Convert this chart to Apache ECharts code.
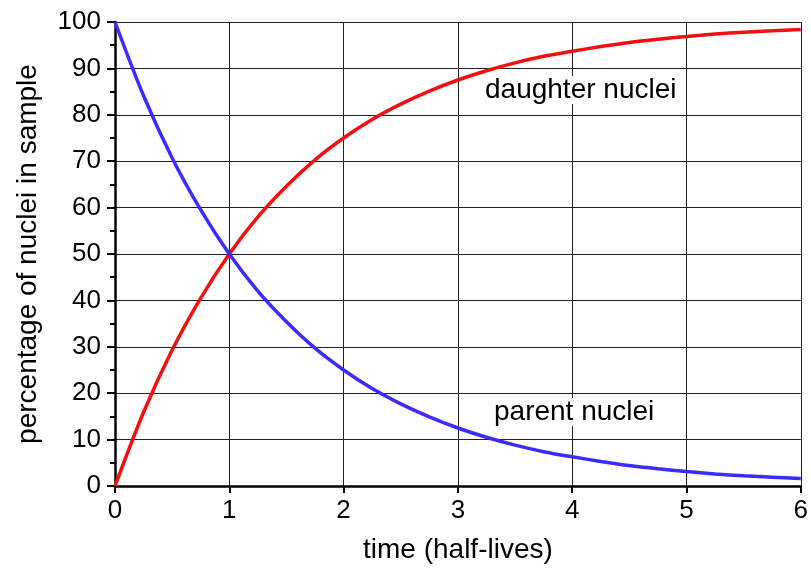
<!DOCTYPE html>
<html>
<head>
<meta charset="utf-8">
<script src="https://cdn.jsdelivr.net/npm/echarts@6/dist/echarts.min.js"></script>
<style>html,body{margin:0;padding:0;background:#fff;}#c{width:811px;height:574px;}</style>
</head>
<body>
<div id="c"></div>
<script>
const times = [0,0.25,0.5,0.75,1,1.25,1.5,1.75,2,2.25,2.5,2.75,3,3.25,3.5,3.75,4,4.25,4.5,4.75,5,5.25,5.5,5.75,6];
const parent = [100,84.1,70.7,59.5,50,42,35.4,29.7,25,21,17.7,14.9,12.5,10.5,8.8,7.4,6.3,5.3,4.4,3.7,3.1,2.6,2.2,1.9,1.6];
const daughter = [0,15.9,29.3,40.5,50,58,64.6,70.3,75,79,82.3,85.1,87.5,89.5,91.2,92.6,93.7,94.7,95.6,96.3,96.9,97.4,97.8,98.1,98.4];
const xTicks = [0,1,2,3,4,5,6];
const yTicks = [0,10,20,30,40,50,60,70,80,90,100];
const labelParent = 'parent nuclei';
const labelDaughter = 'daughter nuclei';

const FONT = '"Liberation Sans", Arial, sans-serif';
const chart = echarts.init(document.getElementById('c'), null, {renderer:'canvas'});
chart.setOption({
  animation:false,
  backgroundColor:'#fff',
  grid:{left:115,right:10,top:22,bottom:88,containLabel:false},
  xAxis:{
    type:'value',min:xTicks[0],max:xTicks[xTicks.length-1],interval:1,
    name:'time (half-lives)',nameLocation:'middle',nameGap:50,
    nameTextStyle:{fontFamily:FONT,fontSize:28,color:'#000'},
    axisLine:{show:true,onZero:false,lineStyle:{color:'#000',width:2.5}},
    axisTick:{show:true,length:7,lineStyle:{color:'#000',width:2}},
    axisLabel:{fontFamily:FONT,fontSize:26,color:'#000',margin:12},
    splitLine:{show:true,lineStyle:{color:'#222',width:1}}
  },
  yAxis:{
    type:'value',min:yTicks[0],max:yTicks[yTicks.length-1],interval:10,
    name:'percentage of nuclei in sample',nameLocation:'middle',nameGap:73,
    nameTextStyle:{fontFamily:FONT,fontSize:28,color:'#000'},
    axisLine:{show:true,onZero:false,lineStyle:{color:'#000',width:2.5}},
    axisTick:{show:true,length:8,lineStyle:{color:'#000',width:2}},
    minorTick:{show:true,splitNumber:2,length:5,lineStyle:{color:'#000',width:2}},
    axisLabel:{fontFamily:FONT,fontSize:26,color:'#000',margin:14},
    splitLine:{show:true,lineStyle:{color:'#222',width:1}}
  },
  series:[
    {type:'line',data:times.map((t,i)=>[t,daughter[i]]),smooth:0.3,showSymbol:false,
     lineStyle:{color:'#f01010',width:3.5},z:3},
    {type:'line',data:times.map((t,i)=>[t,parent[i]]),smooth:0.3,showSymbol:false,
     lineStyle:{color:'#3a2cff',width:3.5},z:4}
  ],
  graphic:[
    {type:'text',left:485,top:76,style:{text:labelDaughter,font:'28px '+FONT,fill:'#000',backgroundColor:'#fff'},z:10},
    {type:'text',left:494,top:398,style:{text:labelParent,font:'28px '+FONT,fill:'#000',backgroundColor:'#fff'},z:10}
  ]
});
</script>
</body>
</html>
